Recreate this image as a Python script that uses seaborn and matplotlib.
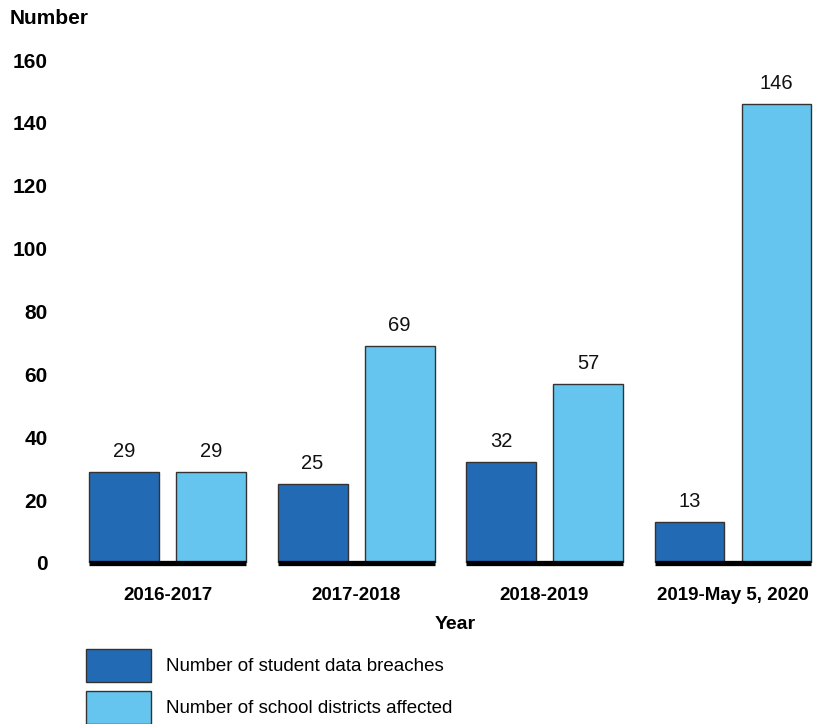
import pandas as pd
import matplotlib.pyplot as plt
import seaborn as sns
from matplotlib.patches import Patch

# Values
years = ['2016-2017', '2017-2018', '2018-2019', '2019-May 5, 2020']
breaches = [29, 25, 32, 13]
districts = [29, 69, 57, 146]
series_names = ['Number of student data breaches', 'Number of school districts affected']
colors = ['#236AB4', '#66C5EE']

df = pd.DataFrame({
    'Year': years * 2,
    'Number': breaches + districts,
    'Series': [series_names[0]] * len(years) + [series_names[1]] * len(years),
})

sns.set_theme(style='white')
plt.rcParams['font.family'] = ['Liberation Sans', 'DejaVu Sans']
plt.rcParams['text.color'] = 'black'

fig = plt.figure(figsize=(8.15, 7.24), dpi=100)
ax = fig.add_axes([85 / 815, 1 - 563 / 724, 730 / 815, 503 / 724])

sns.barplot(data=df, x='Year', y='Number', hue='Series', palette=colors,
            saturation=1, width=0.923, gap=0.196, edgecolor='#333333',
            linewidth=1, legend=False, ax=ax)

ax.set_ylim(0, 160)
ax.set_xlim(-0.438, 3.435)
ax.set_yticks(range(0, 161, 20))
sns.despine(ax=ax, left=True, bottom=True)

# value labels on top of bars
for cont in ax.containers:
    ax.bar_label(cont, padding=8, fontsize=14.5, color='#111111')

# thick black baseline under each year group
for i in range(len(years)):
    bars = [c[i] for c in ax.containers]
    x0 = min(b.get_x() for b in bars)
    x1 = max(b.get_x() + b.get_width() for b in bars)
    ax.hlines(0, x0, x1, color='black', linewidth=3.8, clip_on=False, zorder=5)

ax.tick_params(axis='y', length=0, pad=27, labelsize=15, labelcolor='black')
ax.tick_params(axis='x', length=0, pad=17, labelsize=13.5, labelcolor='black')
for lbl in ax.get_yticklabels() + ax.get_xticklabels():
    lbl.set_fontweight('bold')

ax.set_ylabel('')
ax.set_xlabel('Year', fontsize=14, fontweight='bold', labelpad=8, color='black')
ax.xaxis.set_label_coords(0.507, -0.105)

fig.text(10 / 815, 1 - 18 / 724, 'Number', fontsize=15, fontweight='bold', va='center', ha='left')

handles = [Patch(facecolor=c, edgecolor='#333333', linewidth=1) for c in colors]
fig.legend(handles, series_names, loc='upper left', bbox_to_anchor=(86 / 815, 1 - 649 / 724),
           frameon=False, fontsize=13.5, handlelength=3.45, handleheight=2.3,
           handletextpad=0.8, labelspacing=0.5, borderpad=0, borderaxespad=0)

plt.savefig('out.png', dpi=100)
plt.close()
